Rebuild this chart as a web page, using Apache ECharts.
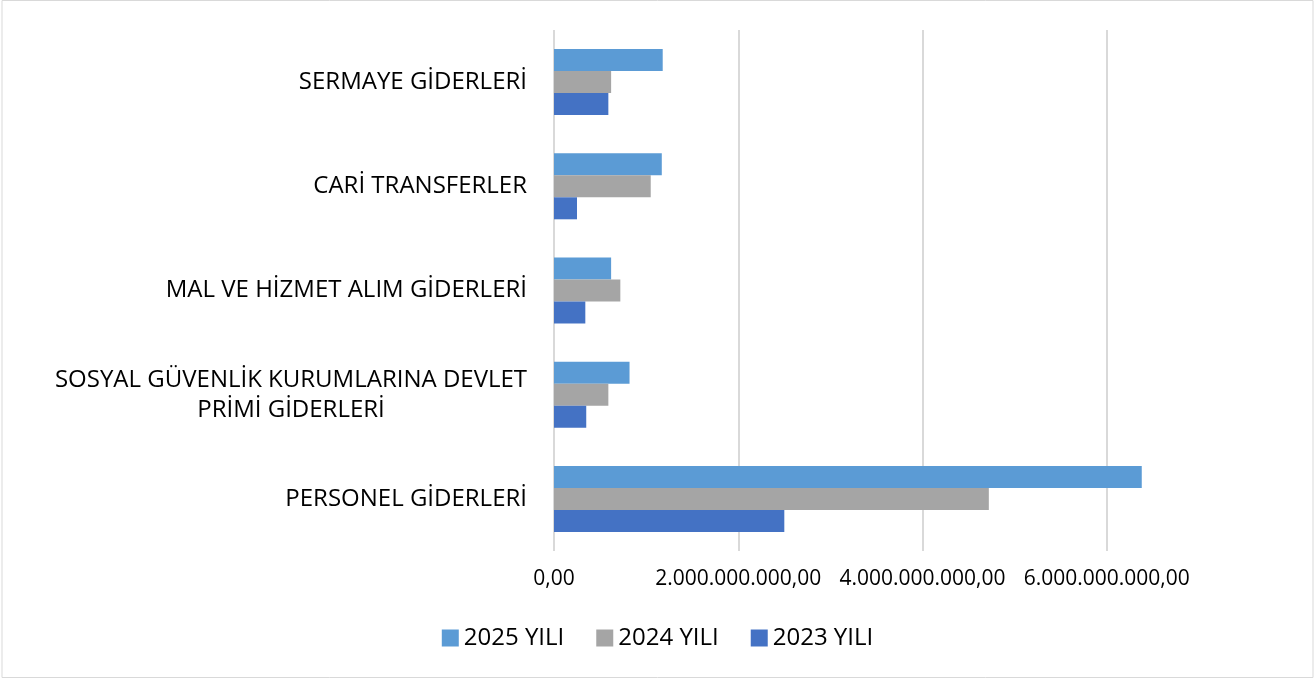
<!DOCTYPE html>
<html style="height: 100%;width: 100%">
<head>
    <meta charset="UTF-8">
    <script type="text/javascript" src="https://cdn.jsdelivr.net/npm/echarts@6/dist/echarts.min.js"></script>
    <title>Giderler</title>
    <style>
    body{
        margin: 0;
        background: #ffffff;
    }
</style>
</head>
<body>
<div id="main" style="width: 1315px;height:679px;"></div>
<script type="text/javascript">
    // kategoriler (alttan üste)
    var categories = ['PERSONEL GİDERLERİ', 'SOSYAL GÜVENLİK KURUMLARINA DEVLET\nPRİMİ GİDERLERİ', 'MAL VE HİZMET ALIM GİDERLERİ', 'CARİ TRANSFERLER', 'SERMAYE GİDERLERİ'];
    var seriesNames = ['2025 YILI', '2024 YILI', '2023 YILI'];
    var y2025 = [6380000000, 820000000, 620000000, 1170000000, 1180000000];
    var y2024 = [4720000000, 590000000, 720000000, 1050000000, 620000000];
    var y2023 = [2500000000, 350000000, 340000000, 250000000, 590000000];
    var tickValues = [0, 2000000000, 4000000000, 6000000000, 8000000000];
    var colors = ['#5B9BD5', '#A5A5A5', '#4472C4'];

    function trFormat(v) {
        var s = Math.round(v).toString().replace(/\B(?=(\d{3})+(?!\d))/g, '.');
        return s + ',00';
    }

    var myChart = echarts.init(document.getElementById('main'));
    var allData = [y2025, y2024, y2023];
    var series = [];
    for (var i = 0; i < seriesNames.length; i++) {
        series.push({
            name: seriesNames[i],
            type: 'bar',
            barWidth: 22,
            barGap: '0%',
            itemStyle: {color: colors[i]},
            data: allData[i]
        });
    }

    var option = {
        animation: false,
        textStyle: {fontFamily: 'Open Sans'},
        graphic: [{
            type: 'rect',
            shape: {x: 2, y: 0.5, width: 1311, height: 677},
            style: {fill: 'none', stroke: '#D9D9D9', lineWidth: 1},
            silent: true
        }],
        legend: {
            data: seriesNames,
            bottom: 24,
            left: 'center',
            itemWidth: 17,
            itemHeight: 17,
            itemGap: 32,
            icon: 'rect',
            textStyle: {fontSize: 24, color: '#000000', fontFamily: 'Open Sans'}
        },
        grid: {
            left: 554,
            right: 24,
            top: 30,
            bottom: 128,
            containLabel: false
        },
        xAxis: {
            type: 'value',
            min: tickValues[0],
            max: tickValues[tickValues.length - 1],
            interval: 2000000000,
            axisLine: {show: false},
            axisTick: {show: false},
            splitLine: {
                show: true,
                lineStyle: {color: ['#D9D9D9', '#D9D9D9', '#D9D9D9', '#D9D9D9', 'rgba(0,0,0,0)'], width: 2}
            },
            axisLabel: {
                showMaxLabel: false,
                margin: 18,
                fontSize: 21,
                color: '#000000',
                formatter: function (v) { return trFormat(v); }
            }
        },
        yAxis: {
            type: 'category',
            data: categories,
            axisLine: {show: false},
            axisTick: {show: false},
            axisLabel: {
                margin: 27,
                fontSize: 24,
                color: '#000000',
                lineHeight: 30,
                formatter: function (v) {
                    if (v.indexOf('\n') >= 0) {
                        var parts = v.split('\n');
                        return '{c|' + parts[0] + '}\n{c|' + parts[1] + '}';
                    }
                    return v;
                },
                rich: {
                    c: {width: 472, align: 'center', fontSize: 24, color: '#000000', lineHeight: 30, fontFamily: 'Open Sans'}
                }
            }
        },
        series: series
    };

    myChart.setOption(option);
</script>
</body>
</html>
